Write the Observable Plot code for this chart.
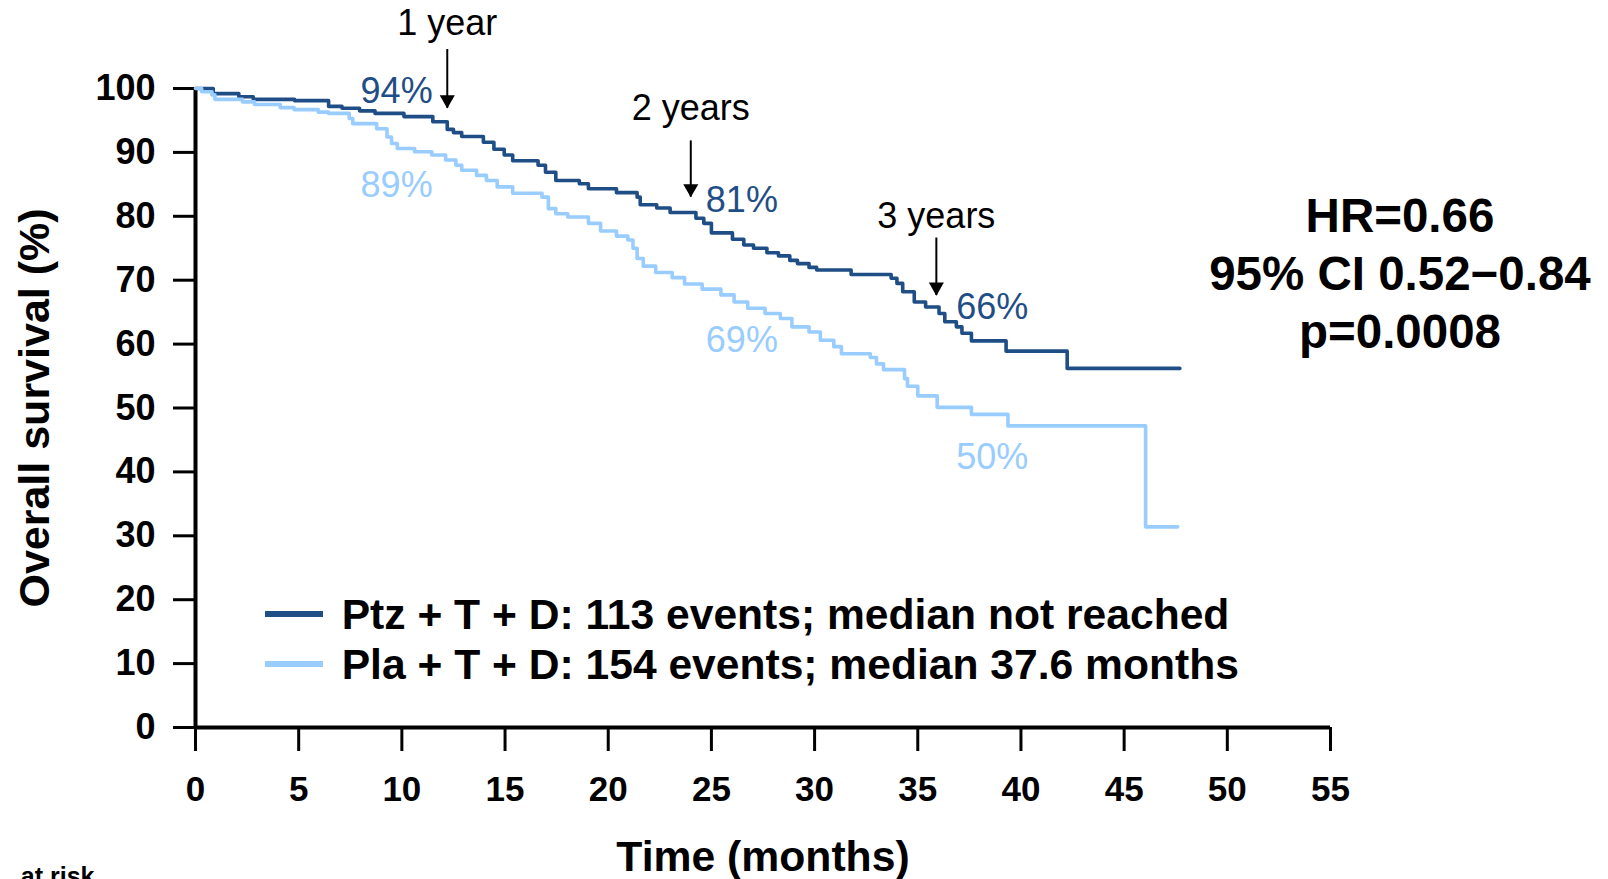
<!DOCTYPE html>
<html>
<head>
<meta charset="utf-8">
<script src="https://cdn.jsdelivr.net/npm/d3@7"></script>
<script src="https://cdn.jsdelivr.net/npm/@observablehq/plot@0.6"></script>
<style>
  html, body { margin: 0; padding: 0; background: #fff; overflow: hidden; }
  #wrap { position: relative; width: 1608px; height: 879px; font-family: "Liberation Sans", Arial, sans-serif; color: #000; }
  #legend { position: absolute; left: 265px; top: 588.5px; font-weight: bold; font-size: 42.6px; }
  #legend .row { position: relative; height: 50px; line-height: 50px; padding-left: 76.7px; white-space: nowrap; }
  #legend .sw { position: absolute; left: 0; top: 22px; width: 58px; height: 6px; }
  #hr { position: absolute; left: 1100px; width: 600px; top: 186.9px; text-align: center; font-weight: bold; font-size: 47.5px; line-height: 58px; white-space: nowrap; }
</style>
</head>
<body>
<div id="wrap"></div>
<script>
// ---- Data ----
const ptzMonths = [0, 0.86, 2.1, 2.8, 4.8, 6.45, 7.1, 7.95, 8.7, 10.1, 11.5, 12.2, 12.5, 12.9, 13.95, 14.46, 14.96, 15.37, 16.6, 16.96, 17.46, 18.6, 19.04, 20.4, 21.4, 21.55, 22.35, 23.0, 24.25, 24.63, 25.0, 26.02, 26.57, 27.04, 27.69, 28.25, 28.8, 29.17, 29.73, 30.1, 31.77, 33.71, 33.99, 34.27, 34.83, 35.38, 36.03, 36.31, 36.87, 37.14, 37.6, 39.28, 42.24, 47.7];
const ptzSurv = [100, 99.2, 98.7, 98.3, 98.1, 97.2, 96.9, 96.5, 96.1, 95.6, 94.8, 93.6, 93.1, 92.5, 91.6, 90.5, 89.6, 88.7, 88.0, 86.9, 85.6, 85.1, 84.3, 83.7, 83.0, 81.8, 81.3, 80.6, 79.7, 78.9, 77.4, 76.4, 75.5, 75.0, 74.3, 73.8, 73.1, 72.6, 72.0, 71.6, 70.9, 70.3, 69.5, 68.2, 66.6, 65.8, 64.8, 63.5, 62.7, 61.7, 60.5, 58.9, 56.2, 56.2];

const plaMonths = [0, 0.3, 0.8, 0.94, 2.28, 2.86, 4.11, 4.78, 5.95, 6.45, 7.45, 7.62, 8.78, 9.28, 9.5, 9.78, 10.62, 11.45, 12.12, 12.62, 12.9, 13.62, 14.1, 14.62, 15.37, 16.79, 17.1, 17.46, 18.04, 19.04, 19.63, 20.4, 20.95, 21.2, 21.4, 21.7, 22.3, 23.1, 23.7, 24.55, 25.46, 26.1, 26.76, 27.6, 28.34, 28.9, 29.73, 30.28, 30.93, 31.3, 32.7, 33.0, 33.34, 34.36, 34.5, 35.0, 35.94, 37.6, 39.37, 46.04, 47.6];
const plaSurv = [100, 99.5, 99.0, 98.3, 97.9, 97.5, 97.0, 96.7, 96.3, 96.1, 95.3, 94.5, 93.7, 92.4, 91.4, 90.6, 90.1, 89.6, 88.8, 88.0, 87.2, 86.4, 85.6, 84.6, 83.6, 83.0, 81.2, 80.4, 79.9, 78.9, 77.7, 76.9, 76.3, 75.0, 73.4, 72.2, 71.2, 70.4, 69.4, 68.6, 67.7, 66.6, 65.6, 64.8, 64.0, 62.7, 61.9, 60.6, 59.6, 58.5, 57.9, 56.9, 56.0, 54.6, 53.4, 51.9, 50.1, 49.0, 47.2, 31.4, 31.4];

const xTicks = [0, 5, 10, 15, 20, 25, 30, 35, 40, 45, 50, 55];
const yTicks = [0, 10, 20, 30, 40, 50, 60, 70, 80, 90, 100];

const arms = ["Ptz + T + D", "Pla + T + D"];
const armEvents = [113, 154];
const armMedian = ["median not reached", "median 37.6 months"];

const milestoneLabels = ["1 year", "2 years", "3 years"];
const milestoneMonths = [12.2, 24, 35.9];
const ptzMilestonePct = ["94%", "81%", "66%"];
const plaMilestonePct = ["89%", "69%", "50%"];

const hrLines = ["HR=0.66", "95% CI 0.52\u22120.84", "p=0.0008"];
const atRiskLabel = "at risk";
const xLabel = "Time (months)";
const yLabel = "Overall survival (%)";

// ---- Styling ----
const colors = ["#1F4E87", "#99CCFF"];
const FONT = "'Liberation Sans', Arial, sans-serif";

// annotation placement in data units (month, survival %)
const yearTextY = [108.3, 95.0, 78.1];
const arrowTopY = [106.1, 91.8, 76.6];
const arrowTipY = [96.9, 83.0, 67.6];
const pctLabelX = [8.0, 24.73, 36.86];
const ptzLabelY = [97.8, 80.6, 64.0];
const plaLabelY = [83.0, 58.7, 40.4];

const rows = [
  ...ptzMonths.map((m, i) => ({month: m, surv: ptzSurv[i], arm: arms[0]})),
  ...plaMonths.map((m, i) => ({month: m, surv: plaSurv[i], arm: arms[1]}))
];
const ms = milestoneLabels.map((lab, i) => ({
  lab, month: milestoneMonths[i], textY: yearTextY[i], top: arrowTopY[i], tip: arrowTipY[i],
  lx: pctLabelX[i], ptz: ptzMilestonePct[i], ptzY: ptzLabelY[i], pla: plaMilestonePct[i], plaY: plaLabelY[i]
}));

const chart = Plot.plot({
  width: 1608,
  height: 879,
  marginLeft: 195,
  marginRight: 278,
  marginTop: 88,
  marginBottom: 152,
  x: {domain: [0, 55]},
  y: {domain: [0, 100]},
  color: {domain: arms, range: colors},
  style: {fontFamily: FONT, color: "black", background: "white", overflow: "visible"},
  marks: [
    Plot.axisY(yTicks, {tickSize: 22, tickPadding: 18, fontSize: 36, fontWeight: "bold", strokeWidth: 3, label: null}),
    Plot.axisX(xTicks, {tickSize: 24, tickPadding: 24.5, fontSize: 35, fontWeight: "bold", strokeWidth: 3, label: null}),
    Plot.ruleX([0], {y1: 0, y2: 100, strokeWidth: 4}),
    Plot.ruleY([0], {x1: 0, x2: 55, strokeWidth: 4}),
    Plot.line(rows, {x: "month", y: "surv", stroke: "arm", z: "arm", curve: "step-after", strokeWidth: 3.6}),
    // milestone arrows
    Plot.ruleX(ms, {x: "month", y1: "top", y2: "tip", strokeWidth: 2, stroke: "black"}),
    Plot.dot(ms, {x: "month", y: "tip", symbol: "triangle", rotate: 180, r: 5.6, fill: "black", stroke: "none", dy: -8.6}),
    Plot.text(ms, {x: "month", y: "textY", text: "lab", lineAnchor: "bottom", fontSize: 36, fill: "black"}),
    Plot.text(ms, {x: "lx", y: "ptzY", text: "ptz", textAnchor: "start", lineAnchor: "bottom", fontSize: 36, fill: colors[0]}),
    Plot.text(ms, {x: "lx", y: "plaY", text: "pla", textAnchor: "start", lineAnchor: "bottom", fontSize: 36, fill: colors[1]}),
    // axis titles
    Plot.text([yLabel], {text: d => d, frameAnchor: "left", rotate: -90, dx: -147, textAnchor: "middle", lineAnchor: "bottom", fontSize: 43, fontWeight: "bold", fill: "black"}),
    Plot.text([xLabel], {text: d => d, frameAnchor: "bottom", dy: 143, textAnchor: "middle", lineAnchor: "bottom", fontSize: 42.7, fontWeight: "bold", fill: "black"}),
    Plot.text([atRiskLabel], {text: d => d, frameAnchor: "bottom-left", dx: -101, dy: 157, textAnchor: "end", lineAnchor: "bottom", fontSize: 25, fontWeight: "bold", fill: "black"})
  ]
});

const wrap = document.getElementById("wrap");
wrap.appendChild(chart);

// legend
const legend = document.createElement("div");
legend.id = "legend";
arms.forEach((a, i) => {
  const row = document.createElement("div");
  row.className = "row";
  const sw = document.createElement("span");
  sw.className = "sw";
  sw.style.background = colors[i];
  row.appendChild(sw);
  row.appendChild(document.createTextNode(`${a}: ${armEvents[i]} events; ${armMedian[i]}`));
  legend.appendChild(row);
});
wrap.appendChild(legend);

// HR block
const hr = document.createElement("div");
hr.id = "hr";
hr.innerHTML = hrLines.map(s => `<div>${s}</div>`).join("");
wrap.appendChild(hr);
</script>
</body>
</html>
